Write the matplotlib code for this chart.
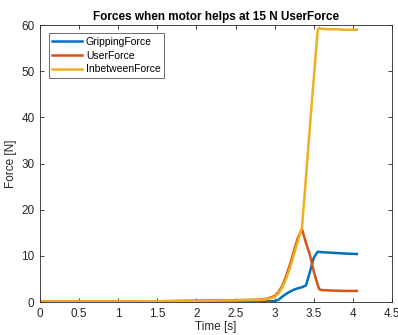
import matplotlib
matplotlib.use("Agg")
import matplotlib.pyplot as plt

# tiempo en segundos
t = [0, 0.5, 1.0, 1.5, 2.0, 2.5, 2.8, 2.9, 3.0, 3.05, 3.1, 3.15, 3.2, 3.25,
     3.3, 3.35, 3.4, 3.45, 3.5, 3.55, 3.57, 3.6, 3.7, 3.8, 3.9, 4.05]

gripping = [0.0, 0.0, 0.0, 0.0, 0.05, 0.1, 0.1, 0.15, 0.2, 0.5, 1.2, 1.8, 2.3, 2.7,
            3.0, 3.2, 3.6, 6.5, 9.6, 10.9, 10.85, 10.8, 10.7, 10.6, 10.5, 10.4]
user = [0.1, 0.1, 0.1, 0.15, 0.3, 0.4, 0.5, 0.7, 1.3, 2.2, 3.6, 5.8, 8.4, 11.3,
        14.1, 15.7, 12.8, 10.2, 6.6, 3.7, 2.75, 2.6, 2.5, 2.45, 2.4, 2.4]
inbetween = [0.1, 0.1, 0.1, 0.15, 0.25, 0.35, 0.45, 0.6, 1.1, 1.9, 3.2, 5.2, 7.6, 10.5,
             13.4, 16.3, 27.0, 38.0, 48.5, 59.0, 59.4, 59.2, 59.1, 59.1, 59.0, 59.0]

fig = plt.figure(figsize=(3.98, 3.35), dpi=100)
ax = fig.add_axes([0.1005, 0.0985, 0.8845, 0.8265])

ax.plot(t, gripping, color="#0072BD", lw=1.8, label="GrippingForce")
ax.plot(t, user, color="#D95319", lw=1.8, label="UserForce")
ax.plot(t, inbetween, color="#EDB120", lw=1.8, label="InbetweenForce")

ax.set_xlim(0, 4.5)
ax.set_ylim(0, 60)
ax.set_xticks([0, 0.5, 1, 1.5, 2, 2.5, 3, 3.5, 4, 4.5])
ax.set_xticklabels(["0", "0.5", "1", "1.5", "2", "2.5", "3", "3.5", "4", "4.5"])
ax.set_yticks(range(0, 61, 10))

fuente = "Liberation Sans"
ax.tick_params(direction="in", top=True, right=True, labelsize=8.5,
               labelcolor="#262626", color="#262626", length=3, width=0.6, pad=4)
for lbl in ax.get_xticklabels() + ax.get_yticklabels():
    lbl.set_fontfamily(fuente)
for s in ax.spines.values():
    s.set_linewidth(0.6)
    s.set_color("#262626")

ax.set_xlabel("Time [s]", fontsize=8.5, family=fuente, color="#262626", labelpad=1)
ax.set_ylabel("Force [N]", fontsize=8.5, family=fuente, color="#262626", labelpad=3)
ax.set_title("Forces when motor helps at 15 N UserForce", fontsize=8.5,
             fontweight="bold", family=fuente, pad=4)

leg = ax.legend(loc="upper left", bbox_to_anchor=(0.025, 0.97),
                prop={"family": fuente, "size": 7.5}, fancybox=False,
                edgecolor="#262626", handlelength=2.8, borderpad=0.35,
                labelspacing=0.35, handletextpad=0.4, borderaxespad=0)
leg.get_frame().set_linewidth(0.6)

fig.savefig("out.png", dpi=100)
